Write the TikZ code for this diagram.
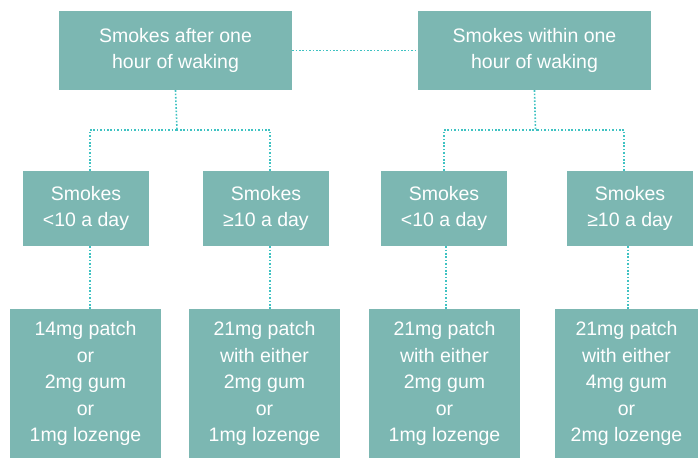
\documentclass[tikz,border=0pt]{standalone}
\usepackage{fontspec}
\setmainfont{Liberation Sans}
\definecolor{boxfill}{HTML}{7CB7B2}
\definecolor{dotline}{HTML}{3FC2C2}
\begin{document}
\begin{tikzpicture}[x=1bp,y=-1bp,
  box/.style={fill=boxfill, draw=none, inner sep=0pt, text=white, align=center,
    font=\fontsize{19.5bp}{26.5bp}\selectfont},
  conn/.style={draw=dotline, line width=1.6bp, dash pattern=on 1.6bp off 1.8bp}]
\useasboundingbox (0,0) rectangle (700,458);
\node[box, minimum width=233bp, minimum height=79bp] (tl) at (175.5,50.5) {Smokes after one\\hour of waking};
\node[box, minimum width=233bp, minimum height=79bp] (tr) at (534.5,50.5) {Smokes within one\\hour of waking};
\node[box, minimum width=126bp, minimum height=75bp] (m1) at (86,208.5) {Smokes\\<10 a day};
\node[box, minimum width=126bp, minimum height=75bp] (m2) at (266,208.5) {Smokes\\≥10 a day};
\node[box, minimum width=126bp, minimum height=75bp] (m3) at (444,208.5) {Smokes\\<10 a day};
\node[box, minimum width=126bp, minimum height=75bp] (m4) at (630,208.5) {Smokes\\≥10 a day};
\node[box, minimum width=151bp, minimum height=149bp] (b1) at (85.5,383.5) {14mg patch\\or\\2mg gum\\or\\1mg lozenge};
\node[box, minimum width=151bp, minimum height=149bp] (b2) at (264.5,383.5) {21mg patch\\with either\\2mg gum\\or\\1mg lozenge};
\node[box, minimum width=151bp, minimum height=149bp] (b3) at (444.5,383.5) {21mg patch\\with either\\2mg gum\\or\\1mg lozenge};
\node[box, minimum width=143bp, minimum height=149bp] (b4) at (626.5,383.5) {21mg patch\\with either\\4mg gum\\or\\2mg lozenge};
\coordinate (jl) at (177,130);
\coordinate (jr) at (535.5,130);
\draw[conn] (tl.east) -- (tr.west);
\draw[conn] (tl.south) -- (jl);
\draw[conn] (tr.south) -- (jr);
\draw[conn] ([xshift=4bp]m1.north) |- (jl);
\draw[conn] ([xshift=4bp]m2.north) |- (jl);
\draw[conn] (m3.north) |- (jr);
\draw[conn] ([xshift=-6bp]m4.north) |- (jr);
\draw[conn] ([xshift=4bp]m1.south) -- ([xshift=4bp]m1.south |- b1.north);
\draw[conn] ([xshift=4bp]m2.south) -- ([xshift=4bp]m2.south |- b2.north);
\draw[conn] ([xshift=2bp]m3.south) -- ([xshift=2bp]m3.south |- b3.north);
\draw[conn] ([xshift=-2bp]m4.south) -- ([xshift=-2bp]m4.south |- b4.north);
\end{tikzpicture}
\end{document}
